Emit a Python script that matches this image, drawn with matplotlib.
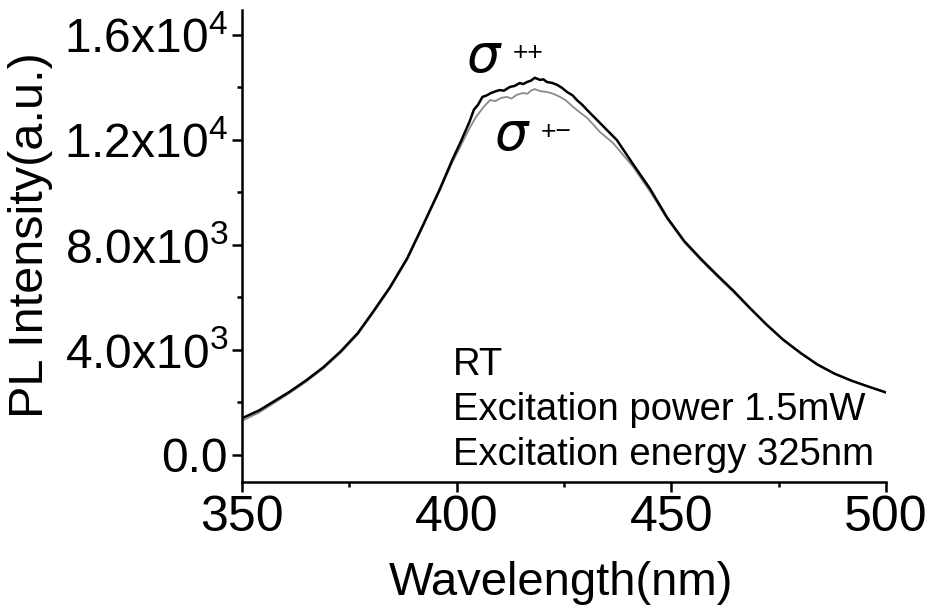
import matplotlib
matplotlib.use("Agg")
import matplotlib.pyplot as plt
from matplotlib.ticker import MultipleLocator

# ----------------------------
# Daten
# ----------------------------
wavelength_pp = [350, 354, 357, 361, 365, 369, 373, 377, 380.5, 384.5,
                 388.5, 392, 396, 399, 401, 403, 404, 405, 406, 407,
                 408, 409, 410, 411, 412.4, 413.5, 414.7, 415.5, 416.4, 417.3,
                 418.2, 419.4, 420.2, 421, 422.3, 423.4, 424.5, 425.7, 427, 428,
                 429.2, 430.4, 432.7, 435, 437.3, 441, 445, 449, 453, 457,
                 461, 464.5, 468.3, 472.3, 476, 480, 484, 488, 492, 496,
                 500]
sigma_pp = [1400, 1700, 2000, 2400, 2850, 3350, 3950, 4650, 5450, 6400,
            7500, 8700, 10100, 11250, 11950, 12700, 13150, 13350, 13640, 13700,
            13790, 13850, 13900, 13880, 14020, 14060, 14170, 14130, 14210, 14260,
            14370, 14290, 14310, 14210, 14170, 14100, 13990, 13830, 13700, 13520,
            13350, 13140, 12760, 12380, 12000, 11100, 10150, 9050, 8150, 7450,
            6800, 6250, 5600, 4950, 4400, 3900, 3450, 3100, 2830, 2600,
            2380]

wavelength_pm = [350, 354, 357, 361, 365, 369, 373, 377, 380.5, 384.5,
                 388.5, 392, 396, 399, 401, 403, 404.4, 405.4, 406.5, 407.8,
                 409, 410.3, 411.7, 412.8, 414, 415.4, 416.5, 417.3, 418.2, 419.5,
                 421, 422.5, 424.1, 425.5, 427.1, 428.7, 430.4, 433.4, 436.4, 441,
                 445, 449, 453, 457, 461, 464.5, 468.3, 472.3, 476, 480,
                 484, 488, 492, 496, 500]
sigma_pm = [1300, 1620, 1930, 2350, 2800, 3300, 3900, 4600, 5400, 6350,
            7450, 8650, 10050, 11150, 11800, 12450, 12850, 13070, 13300, 13520,
            13480, 13600, 13640, 13580, 13720, 13790, 13760, 13880, 13940, 13860,
            13830, 13760, 13640, 13500, 13260, 13050, 12840, 12300, 11890, 11000,
            10050, 9000, 8100, 7400, 6750, 6200, 5580, 4930, 4380, 3880,
            3440, 3090, 2820, 2600, 2400]

xticks = [350, 400, 450, 500]
yticks = [0, 4000, 8000, 12000, 16000]
ytick_labels = ["0.0", "4.0x10$^3$", "8.0x10$^3$", "1.2x10$^4$", "1.6x10$^4$"]

notes = ["RT", "Excitation power 1.5mW", "Excitation energy 325nm"]

# ----------------------------
# Schrift
# ----------------------------
plt.rcParams["font.family"] = ["Liberation Sans", "DejaVu Sans"]
plt.rcParams["mathtext.fontset"] = "custom"
plt.rcParams["mathtext.rm"] = "Liberation Sans"
plt.rcParams["mathtext.it"] = "Liberation Sans:italic"
plt.rcParams["mathtext.bf"] = "Liberation Sans:bold"

# ----------------------------
# Diagramm
# ----------------------------
fig = plt.figure(figsize=(9.28, 6.10), dpi=100)
ax = fig.add_axes([242 / 928, 128 / 610, 644 / 928, 472 / 610])

ax.plot(wavelength_pm, sigma_pm, color="#8a8a8a", lw=1.3)
ax.plot(wavelength_pp, sigma_pp, color="black", lw=1.8)

ax.set_xlim(350, 500)
ax.set_ylim(-1029, 16952)

for side in ["top", "right"]:
    ax.spines[side].set_visible(False)
for side in ["left", "bottom"]:
    ax.spines[side].set_linewidth(1.8)

ax.set_xticks(xticks)
ax.set_yticks(yticks)
ax.set_yticklabels(ytick_labels)
ax.xaxis.set_minor_locator(MultipleLocator(25))
ax.yaxis.set_minor_locator(MultipleLocator(2000))
ax.tick_params(which="major", direction="out", length=7, width=1.8)
ax.tick_params(which="minor", direction="out", length=3.6, width=1.8)
ax.tick_params(axis="x", labelsize=36, pad=2.5)
ax.tick_params(axis="y", labelsize=34.5, pad=3)

# Achsentitel
fig.text(561 / 928, 1 - 595 / 610, "Wavelength(nm)", fontsize=34,
         ha="center", va="baseline")
fig.text(31 / 928, 1 - 235 / 610, "PL Intensity(a.u.)", fontsize=35,
         rotation=90, ha="center", va="center")

# Kurvenbeschriftung
fig.text(466 / 928, 1 - 72 / 610, "σ", fontsize=38, style="italic",
         family="DejaVu Sans", va="baseline")
fig.text(513 / 928, 1 - 53 / 610, "++", fontsize=19, va="center")
fig.text(494 / 928, 1 - 150 / 610, "σ", fontsize=38, style="italic",
         family="DejaVu Sans", va="baseline")
fig.text(541 / 928, 1 - 132 / 610, "+−", fontsize=19, va="center")

# Messbedingungen
for i, line in enumerate(notes):
    fig.text(453 / 928, 1 - (375 + 45 * i) / 610, line, fontsize=27.5,
             va="baseline")

plt.savefig("out.png", dpi=100)
